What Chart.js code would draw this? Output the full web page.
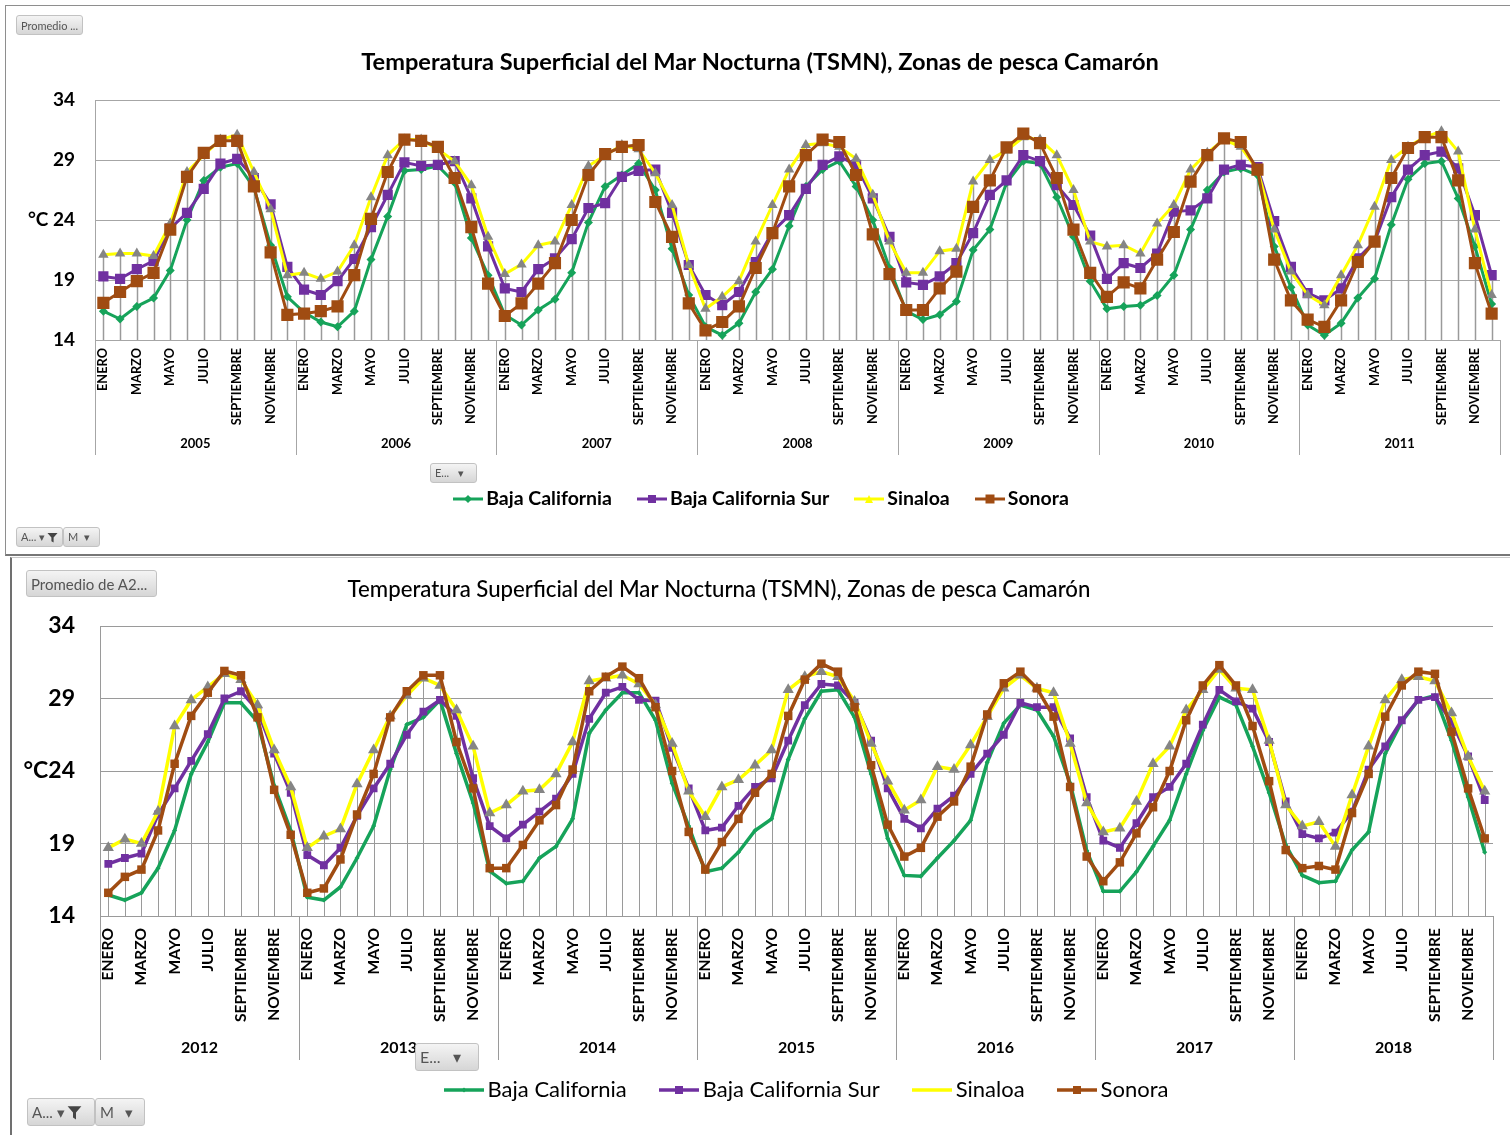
<!DOCTYPE html>
<html>
<head>
<meta charset="utf-8">
<script src="https://cdn.jsdelivr.net/npm/chart.js@4.4.1/dist/chart.umd.min.js"></script>
<style>
  html, body { margin: 0; padding: 0; background: #fff; }
  body { width: 1510px; height: 1135px; position: relative; overflow: hidden; font-family: Lato, "Open Sans", sans-serif; }
  .panel { position: absolute; box-sizing: border-box; background: #fff; }
  #panelTop { left: 5px; top: 5px; width: 1510px; height: 551px; border: 1px solid #8e8e8e; border-bottom: 2px solid #777; }
  #panelBottom { left: 10px; top: 557px; width: 1505px; height: 585px; border-left: 2px solid #707070; border-top: 1px solid #c8c8c8; }
  canvas { position: absolute; }
  .btn { position: absolute; box-sizing: border-box; background: linear-gradient(#f4f4f4, #d6d6d6); border: 1px solid #c2c2c2; border-radius: 3px; color: #555; white-space: nowrap; display: flex; align-items: center; padding-left: 4px; z-index: 5; }
  .btn svg { margin: 0 2px; }
</style>
</head>
<body>
<div class="panel" id="panelTop"></div>
<div class="panel" id="panelBottom"></div>
<canvas id="chartA" width="1505" height="550" style="left:5px;top:5px;"></canvas>
<canvas id="chartB" width="1500" height="578" style="left:10px;top:557px;"></canvas>

<!-- pivot field buttons -->
<div class="btn" style="left:16px;top:15px;width:67px;height:20px;font-size:11px;">Promedio ...</div>
<div class="btn" style="left:430px;top:463px;width:47px;height:20px;font-size:11px;">E...&nbsp;&nbsp;&nbsp;▾</div>
<div class="btn" style="left:16px;top:527px;width:47px;height:20px;font-size:11px;">A... ▾<svg width="11" height="11" viewBox="0 0 12 12"><path d="M0.5 1 H11.5 L7.2 6 V11.5 L4.8 10 V6 Z" fill="#444"/></svg></div>
<div class="btn" style="left:63px;top:527px;width:37px;height:20px;font-size:11px;">M&nbsp;&nbsp;▾</div>

<div class="btn" style="left:26px;top:570px;width:131px;height:27px;font-size:15px;">Promedio de A2...</div>
<div class="btn" style="left:415px;top:1043px;width:64px;height:28px;font-size:16px;">E...&nbsp;&nbsp;&nbsp;▾</div>
<div class="btn" style="left:27px;top:1098px;width:68px;height:28px;font-size:15px;">A... ▾<svg width="15" height="15" viewBox="0 0 12 12"><path d="M0.5 1 H11.5 L7.2 6 V11.5 L4.8 10 V6 Z" fill="#444"/></svg></div>
<div class="btn" style="left:95px;top:1098px;width:50px;height:28px;font-size:15px;">M&nbsp;&nbsp;&nbsp;▾</div>

<script>
// ---- categories and labels ----
const MONTHS = ['ENERO', 'FEBRERO', 'MARZO', 'ABRIL', 'MAYO', 'JUNIO', 'JULIO', 'AGOSTO', 'SEPTIEMBRE', 'OCTUBRE', 'NOVIEMBRE', 'DICIEMBRE'];
const YEARS_A = ['2005', '2006', '2007', '2008', '2009', '2010', '2011'];
const YEARS_B = ['2012', '2013', '2014', '2015', '2016', '2017', '2018'];
const SERIES_NAMES = ['Baja California', 'Baja California Sur', 'Sinaloa', 'Sonora'];
const TITLE = 'Temperatura Superficial del Mar Nocturna (TSMN), Zonas de pesca Camarón';
const Y_MIN = 14, Y_MAX = 34, Y_STEP = 5;

// ---- monthly means (°C), 2005–2011 ----
const bajaCaliforniaA = [
  16.4, 15.75, 16.8, 17.5, 19.8, 24.0, 27.3, 28.4, 28.7, 26.7, 21.9, 17.6,
  16.3, 15.5, 15.1, 16.4, 20.7, 24.3, 28.1, 28.2, 28.5, 27.1, 22.5, 19.4,
  16.1, 15.25, 16.5, 17.4, 19.6, 23.8, 26.8, 27.75, 28.7, 26.5, 21.6, 17.75,
  15.1, 14.4, 15.4, 18.0, 19.9, 23.5, 26.8, 28.2, 28.9, 26.8, 24.0, 20.0,
  16.4, 15.7, 16.1, 17.2, 21.5, 23.2, 27.1, 28.9, 28.7, 25.9, 22.6, 18.9,
  16.6, 16.8, 16.9, 17.7, 19.4, 23.2, 26.5, 28.0, 28.3, 27.75, 21.8, 18.4,
  15.25, 14.4, 15.4, 17.5, 19.1, 23.6, 27.4, 28.7, 28.9, 25.8, 21.8, 17.0
];
const bajaCaliforniaSurA = [
  19.3, 19.1, 19.9, 20.6, 23.3, 24.6, 26.6, 28.7, 29.1, 27.5, 25.3, 20.1,
  18.2, 17.75, 18.9, 20.75, 23.4, 26.1, 28.8, 28.5, 28.6, 28.9, 25.8, 21.8,
  18.3, 18.0, 19.9, 20.8, 22.4, 25.0, 25.4, 27.6, 28.1, 28.2, 24.6, 20.25,
  17.75, 16.9, 18.0, 20.5, 23.0, 24.4, 26.6, 28.6, 29.3, 28.6, 25.8, 22.6,
  18.8, 18.6, 19.3, 20.4, 22.9, 26.1, 27.3, 29.4, 28.9, 26.9, 25.25, 22.7,
  19.1, 20.4, 20.0, 21.2, 24.7, 24.8, 25.8, 28.2, 28.6, 28.4, 23.9, 20.1,
  17.9, 17.3, 18.3, 20.8, 22.2, 25.9, 28.2, 29.4, 29.7, 28.3, 24.4, 19.4
];
const sinaloaA = [
  21.1, 21.2, 21.2, 21.0, 23.7, 28.0, 29.4, 30.7, 31.1, 28.0, 24.9, 19.4,
  19.6, 19.1, 19.7, 21.9, 25.9, 29.4, 30.7, 30.7, 29.9, 28.9, 26.9, 22.6,
  19.5, 20.3, 21.9, 22.2, 25.25, 28.5, 29.4, 30.25, 29.9, 27.9, 25.25, 20.25,
  16.6, 17.6, 18.9, 22.2, 25.25, 28.2, 30.25, 30.4, 30.1, 29.1, 26.1, 22.2,
  19.6, 19.6, 21.4, 21.6, 27.2, 29.0, 29.8, 30.9, 30.7, 29.4, 26.5, 22.2,
  21.8, 21.9, 21.2, 23.7, 25.25, 28.2, 29.6, 30.7, 30.1, 28.2, 23.2, 19.7,
  17.75, 16.9, 19.4, 21.9, 25.1, 29.0, 30.1, 30.9, 31.4, 29.7, 23.2, 17.75
];
const sonoraA = [
  17.1, 18.0, 18.9, 19.6, 23.2, 27.6, 29.6, 30.6, 30.6, 26.8, 21.3, 16.1,
  16.2, 16.4, 16.8, 19.4, 24.1, 28.0, 30.7, 30.6, 30.1, 27.5, 23.4, 18.7,
  16.0, 17.05, 18.7, 20.4, 24.0, 27.75, 29.5, 30.1, 30.25, 25.5, 22.6, 17.05,
  14.8, 15.5, 16.8, 20.0, 22.9, 26.8, 29.4, 30.7, 30.5, 27.75, 22.8, 19.5,
  16.5, 16.5, 18.3, 19.7, 25.1, 27.3, 30.05, 31.2, 30.4, 27.5, 23.2, 19.6,
  17.6, 18.8, 18.3, 20.7, 23.0, 27.2, 29.4, 30.8, 30.5, 28.2, 20.7, 17.3,
  15.7, 15.1, 17.3, 20.5, 22.2, 27.5, 30.0, 30.9, 30.9, 27.3, 20.4, 16.2
];

// ---- monthly means (°C), 2012–2018 ----
const bajaCaliforniaB = [
  15.45, 15.1, 15.6, 17.3, 19.9, 23.8, 26.0, 28.7, 28.7, 27.4, 23.0, 19.9,
  15.3, 15.1, 16.0, 18.0, 20.2, 24.1, 27.2, 27.7, 28.9, 25.2, 21.8, 17.1,
  16.25, 16.4, 18.0, 18.8, 20.7, 26.6, 28.2, 29.4, 29.4, 27.5, 23.15, 20.2,
  17.05, 17.3, 18.4, 19.9, 20.7, 24.8, 27.6, 29.5, 29.6, 27.7, 23.8, 19.35,
  16.8, 16.75, 18.0, 19.2, 20.6, 24.6, 27.3, 28.55, 28.2, 26.4, 23.15, 18.5,
  15.7, 15.7, 17.05, 18.8, 20.6, 23.8, 26.8, 29.1, 28.55, 25.7, 22.5, 18.9,
  16.8, 16.3, 16.4, 18.55, 19.8, 25.2, 27.4, 28.9, 29.2, 26.1, 22.2, 18.4
];
const bajaCaliforniaSurB = [
  17.6, 18.0, 18.3, 21.0, 22.8, 24.7, 26.55, 29.0, 29.5, 28.2, 25.2, 22.5,
  18.2, 17.5, 18.7, 20.9, 22.8, 24.5, 26.5, 28.1, 28.9, 27.8, 23.5, 20.2,
  19.35, 20.3, 21.2, 22.1, 23.8, 27.6, 29.4, 29.8, 28.9, 28.85, 25.6, 22.8,
  19.9, 20.1, 21.6, 22.9, 23.5, 26.1, 28.55, 30.0, 29.9, 28.7, 26.1, 22.8,
  20.7, 20.05, 21.4, 22.3, 23.8, 25.2, 26.5, 28.7, 28.4, 28.4, 26.25, 22.2,
  19.2, 18.7, 20.4, 22.2, 22.9, 24.5, 27.2, 29.6, 28.8, 28.3, 26.0, 21.9,
  19.65, 19.35, 19.75, 21.2, 24.1, 25.7, 27.5, 28.9, 29.1, 27.4, 25.0, 22.0
];
const sinaloaB = [
  18.7, 19.3, 19.0, 21.2, 27.1, 28.9, 29.8, 30.7, 30.3, 28.55, 25.45, 22.9,
  18.7, 19.5, 20.0, 23.1, 25.45, 27.8, 29.2, 30.4, 29.9, 28.2, 25.7, 21.1,
  21.65, 22.6, 22.7, 23.8, 26.0, 30.2, 30.4, 30.6, 30.0, 28.55, 25.9, 22.6,
  20.85, 22.9, 23.4, 24.4, 25.45, 29.6, 30.5, 30.85, 30.5, 28.8, 25.9, 23.3,
  21.3, 22.0, 24.3, 24.1, 25.8, 27.75, 29.7, 30.6, 29.7, 29.4, 25.9, 21.8,
  19.8, 20.05, 21.9, 24.5, 25.7, 28.2, 29.6, 31.0, 29.7, 29.6, 26.1, 21.65,
  20.2, 20.5, 18.8, 22.35, 25.7, 28.9, 30.3, 30.5, 30.2, 28.0, 25.0, 22.6
];
const sonoraB = [
  15.6, 16.7, 17.2, 19.9, 24.5, 27.8, 29.4, 30.9, 30.6, 27.7, 22.7, 19.6,
  15.6, 15.9, 17.9, 21.0, 23.8, 27.7, 29.5, 30.6, 30.6, 26.0, 22.8, 17.3,
  17.3, 18.9, 20.6, 21.65, 24.1, 29.5, 30.5, 31.2, 30.4, 28.4, 24.0, 19.8,
  17.2, 19.1, 20.7, 22.5, 23.8, 27.8, 30.3, 31.4, 30.85, 28.4, 24.4, 20.3,
  18.1, 18.7, 20.85, 21.9, 24.3, 27.9, 30.05, 30.85, 29.7, 27.75, 22.9, 18.1,
  16.4, 17.7, 19.7, 21.5, 24.0, 27.5, 29.9, 31.3, 29.9, 27.1, 23.3, 18.55,
  17.3, 17.45, 17.2, 21.1, 23.8, 27.75, 29.9, 30.85, 30.7, 26.7, 22.8, 19.35
];

// ---- series styling ----
const FONT = 'Lato, "Open Sans", sans-serif';
const GREEN = '#16a35a', PURPLE = '#7030a0', YELLOW = '#ffff00', BROWN = '#a04c12', GREY = '#858585';
const SERIES_STYLE = [
  { line: GREEN,  marker: 'rectRot',  markerColor: GREEN },
  { line: PURPLE, marker: 'rect',     markerColor: PURPLE },
  { line: YELLOW, marker: 'triangle', markerColor: GREY },
  { line: BROWN,  marker: 'rect',     markerColor: BROWN }
];

// legend glyph: a short line with the series marker in its middle
function glyph(w, h, color, lw, shape, size, fill) {
  const c = document.createElement('canvas');
  c.width = w; c.height = h;
  const g = c.getContext('2d');
  const cx = w / 2, cy = h / 2;
  g.strokeStyle = color; g.lineWidth = lw;
  g.beginPath(); g.moveTo(0, cy); g.lineTo(w, cy); g.stroke();
  g.fillStyle = fill || color;
  g.beginPath();
  if (shape === 'rect') {
    g.rect(cx - size / 2, cy - size / 2, size, size);
  } else if (shape === 'rectRot') {
    g.moveTo(cx, cy - size / 2); g.lineTo(cx + size / 2, cy); g.lineTo(cx, cy + size / 2); g.lineTo(cx - size / 2, cy);
  } else if (shape === 'triangle') {
    g.moveTo(cx, cy - size / 2); g.lineTo(cx + size / 2, cy + size / 2); g.lineTo(cx - size / 2, cy + size / 2);
  }
  g.closePath(); g.fill();
  return c;
}

// vertical drop lines from the highest point of each month down to the axis
const dropLines = {
  id: 'dropLines',
  beforeDatasetsDraw(chart, args, o) {
    const { ctx, chartArea } = chart;
    const xs = chart.scales.x, ys = chart.scales.y;
    ctx.save();
    ctx.strokeStyle = o.color; ctx.lineWidth = o.width;
    chart.data.labels.forEach((_, i) => {
      const top = Math.max(...chart.data.datasets.map(ds => ds.data[i]));
      const px = Math.round(xs.getPixelForValue(i)) + 0.5;
      ctx.beginPath(); ctx.moveTo(px, ys.getPixelForValue(top)); ctx.lineTo(px, chartArea.bottom); ctx.stroke();
    });
    ctx.restore();
  }
};

// year row under the month labels, with separators between years
const yearRow = {
  id: 'yearRow',
  afterDraw(chart, args, o) {
    const { ctx, chartArea } = chart;
    const xs = chart.scales.x;
    const n = chart.data.labels.length;
    const half = (xs.getPixelForValue(1) - xs.getPixelForValue(0)) / 2;
    const edges = [];
    for (let k = 0; k <= o.years.length; k++) {
      edges.push(k < o.years.length ? xs.getPixelForValue(k * 12) - half : xs.getPixelForValue(n - 1) + half);
    }
    ctx.save();
    ctx.strokeStyle = o.color; ctx.lineWidth = 1;
    edges.forEach(e => {
      const px = Math.round(e) + 0.5;
      ctx.beginPath(); ctx.moveTo(px, chartArea.bottom); ctx.lineTo(px, chartArea.bottom + o.length); ctx.stroke();
    });
    ctx.fillStyle = '#000';
    ctx.font = o.font;
    ctx.textAlign = 'center'; ctx.textBaseline = 'middle';
    o.years.forEach((yr, k) => ctx.fillText(yr, (edges[k] + edges[k + 1]) / 2, chartArea.bottom + o.offset));
    ctx.restore();
  }
};

// chart heading at a fixed spot
const heading = {
  id: 'heading',
  afterDraw(chart, args, o) {
    const ctx = chart.ctx;
    ctx.save();
    ctx.fillStyle = '#000'; ctx.font = o.font;
    ctx.textAlign = 'center'; ctx.textBaseline = 'middle';
    ctx.fillText(o.text, o.x, o.y);
    ctx.restore();
  }
};

// series key: glyph + name, centred on a given x
const seriesKey = {
  id: 'seriesKey',
  afterDraw(chart, args, o) {
    const ctx = chart.ctx;
    ctx.save();
    ctx.font = o.font;
    ctx.textBaseline = 'middle'; ctx.textAlign = 'left'; ctx.fillStyle = '#000';
    const names = chart.data.datasets.map(ds => ds.label);
    const widths = names.map(t => ctx.measureText(t).width);
    const total = widths.reduce((s, w, i) => s + o.glyphs[i].width + o.textGap + w, 0) + o.itemGap * (names.length - 1);
    let x = o.x - total / 2;
    names.forEach((t, i) => {
      const gph = o.glyphs[i];
      ctx.drawImage(gph, Math.round(x), Math.round(o.y - gph.height / 2));
      x += gph.width + o.textGap;
      ctx.fillText(t, x, o.y);
      x += widths[i] + o.itemGap;
    });
    ctx.restore();
  }
};

function buildChart(canvasId, years, values, look) {
  const labels = years.flatMap(() => MONTHS);
  const datasets = SERIES_NAMES.map((name, k) => ({
    label: name,
    data: values[k],
    borderColor: SERIES_STYLE[k].line,
    backgroundColor: SERIES_STYLE[k].line,
    borderWidth: look.lineWidth,
    pointStyle: SERIES_STYLE[k].marker,
    pointRadius: look.radius[k],
    pointBackgroundColor: SERIES_STYLE[k].markerColor,
    pointBorderColor: SERIES_STYLE[k].markerColor,
    pointBorderWidth: 0,
    fill: false,
    tension: 0,
    order: SERIES_NAMES.length - k
  }));

  return new Chart(document.getElementById(canvasId), {
    type: 'line',
    data: { labels, datasets },
    plugins: [dropLines, yearRow, heading, seriesKey],
    options: {
      responsive: false,
      animation: false,
      events: [],
      layout: { padding: look.padding },
      scales: {
        x: {
          type: 'category',
          offset: true,
          grid: { display: false, drawTicks: false },
          border: { display: true, color: look.gridColor, width: 1 },
          ticks: {
            autoSkip: false, maxRotation: 90, minRotation: 90, padding: look.monthPad,
            color: '#000', font: { family: FONT, size: look.monthSize, weight: 'bold' },
            callback(v, i) { return i % 2 === 0 ? this.getLabelForValue(v) : ''; }
          },
          afterFit(scale) {
            scale.height = look.xHeight;
            // the plot edges are set by the layout padding alone
            scale.paddingLeft = 0;
            scale.paddingRight = 0;
          }
        },
        y: {
          min: Y_MIN, max: Y_MAX,
          grid: { color: look.gridColor, lineWidth: 1, drawTicks: false },
          border: { display: true, color: look.gridColor, width: 1 },
          ticks: {
            stepSize: Y_STEP, padding: look.yPad, color: '#000',
            font: { family: FONT, size: look.ySize, weight: 'bold' },
            callback(v) { return v === 24 ? look.unitLabel : String(v); }
          },
          afterFit(scale) { scale.width = look.yWidth; }
        }
      },
      plugins: {
        legend: { display: false },
        title: { display: false },
        tooltip: { enabled: false },
        dropLines: { color: look.dropColor, width: look.dropWidth },
        yearRow: { years, color: look.gridColor, length: look.yearLine, offset: look.yearOffset, font: look.yearFont },
        heading: { text: TITLE, x: look.titleX, y: look.titleY, font: look.titleFont },
        seriesKey: { x: look.keyX, y: look.keyY, font: look.keyFont, glyphs: look.glyphs, textGap: look.keyTextGap, itemGap: look.keyItemGap }
      }
    }
  });
}

// upper panel: 2005–2011
buildChart('chartA', YEARS_A, [bajaCaliforniaA, bajaCaliforniaSurA, sinaloaA, sonoraA], {
  padding: { left: 10, right: 10, top: 95, bottom: 97 },
  yWidth: 80, xHeight: 118,
  lineWidth: 3, radius: [4.5, 7.2, 6, 8.6],
  gridColor: '#a6a6a6', dropColor: '#9a9a9a', dropWidth: 1.5,
  monthSize: 12.8, monthPad: 8,
  ySize: 19, yPad: 20, unitLabel: '°C 24',
  yearLine: 115, yearOffset: 104, yearFont: `bold 13px ${FONT}`,
  titleX: 755, titleY: 57, titleFont: `bold 23.6px ${FONT}`,
  keyX: 756, keyY: 494, keyFont: `bold 19.5px ${FONT}`, keyTextGap: 3, keyItemGap: 25,
  glyphs: [
    glyph(30, 14, GREEN, 3, 'rectRot', 8),
    glyph(30, 14, PURPLE, 3, 'rect', 8),
    glyph(30, 14, YELLOW, 3, 'triangle', 8),
    glyph(30, 14, BROWN, 3, 'rect', 9)
  ]
});

// lower panel: 2012–2018
buildChart('chartB', YEARS_B, [bajaCaliforniaB, bajaCaliforniaSurB, sinaloaB, sonoraB], {
  padding: { left: 10, right: 17, top: 69, bottom: 94 },
  yWidth: 80, xHeight: 125,
  lineWidth: 3.5, radius: [2.5, 5.5, 6.5, 6],
  gridColor: '#9a9a9a', dropColor: '#9a9a9a', dropWidth: 1,
  monthSize: 15.6, monthPad: 12,
  ySize: 23, yPad: 25, unitLabel: '°C24',
  yearLine: 144, yearOffset: 132, yearFont: `bold 16px ${FONT}`,
  titleX: 709, titleY: 33, titleFont: `500 22.2px ${FONT}`,
  keyX: 796, keyY: 533, keyFont: `22px ${FONT}`, keyTextGap: 4, keyItemGap: 32,
  glyphs: [
    glyph(40, 14, GREEN, 3.5, 'rectRot', 5),
    glyph(40, 14, PURPLE, 3.5, 'rect', 8),
    glyph(40, 14, YELLOW, 3.5, 'rect', 0),
    glyph(40, 14, BROWN, 3.5, 'rect', 8)
  ]
});
</script>
</body>
</html>
